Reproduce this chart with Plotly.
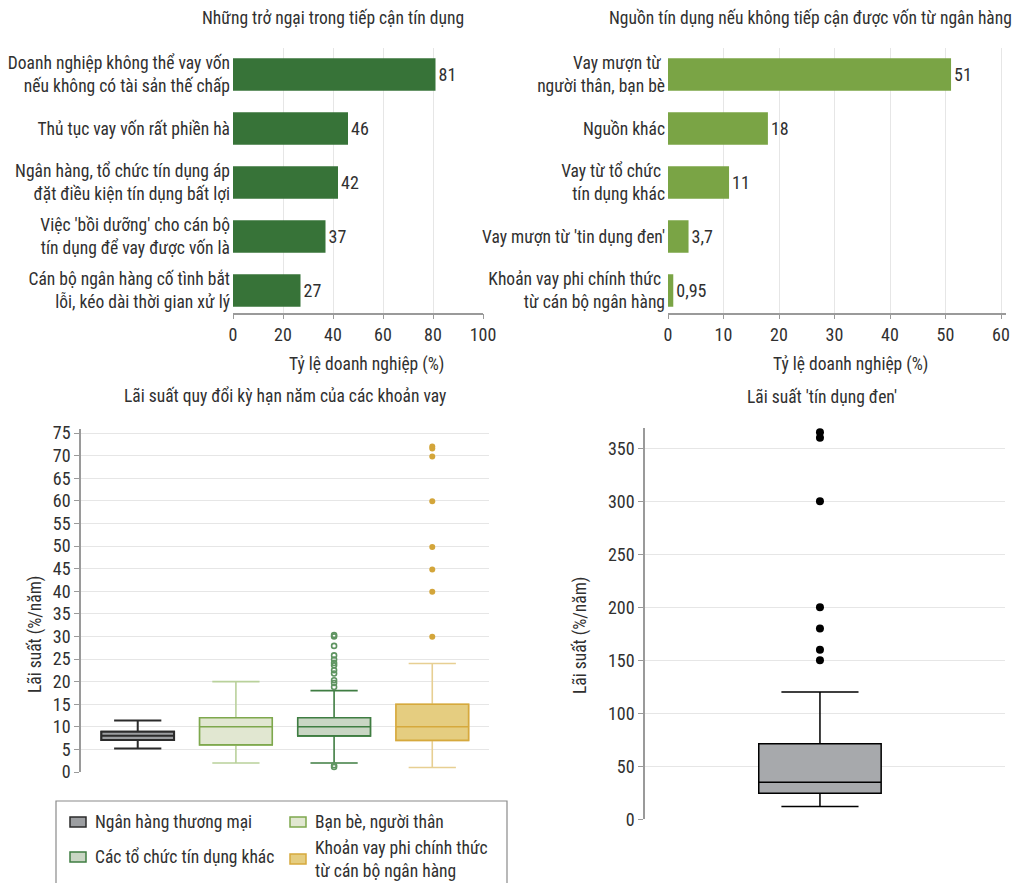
import plotly.graph_objects as go

OFF = 0
W, H = 1018, 883
FONT = "Liberation Sans Narrow, Roboto Condensed, Roboto, sans-serif"
TXT = "#303030"

# ---------------- data ----------------
obstacle_labels = [
    "Doanh nghiệp không thể vay vốn<br>nếu không có tài sản thế chấp",
    "Thủ tục vay vốn rất phiền hà",
    "Ngân hàng, tổ chức tín dụng áp<br>đặt điều kiện tín dụng bất lợi",
    "Việc 'bồi dưỡng' cho cán bộ<br>tín dụng để vay được vốn là",
    "Cán bộ ngân hàng cố tình bắt<br>lỗi, kéo dài thời gian xử lý",
]
obstacle_pct = [81, 46, 42, 37, 27]

source_labels = [
    "Vay mượn từ <br>người thân, bạn bè",
    "Nguồn khác",
    "Vay từ tổ chức <br>tín dụng khác",
    "Vay mượn từ 'tin dụng đen'",
    "Khoản vay phi chính thức <br>từ cán bộ ngân hàng",
]
source_pct = [51, 18, 11, 3.7, 0.95]

loan_types = [
    "Ngân hàng thương mại",
    "Bạn bè, người thân",
    "Các tổ chức tín dụng khác",
    "Khoản vay phi chính thức<br>từ cán bộ ngân hàng",
]
rate_q1 = [7.1, 6, 8, 7]
rate_median = [8, 10, 10, 10]
rate_q3 = [8.9, 12, 12, 15]
rate_low = [5.2, 2, 2, 1]
rate_high = [11.4, 20, 18, 24]
outliers_other_credit = [30, 30.3, 27.9, 25.8, 24.9, 24.1, 23.6, 22.5, 21.8, 20.3, 19.7, 18.8, 1.5, 1.1]
outliers_informal = [72, 71.6, 69.8, 59.9, 49.8, 44.8, 39.9, 29.9]

black_q1 = 24.5
black_median = 35
black_q3 = 71.3
black_low = 12
black_high = 120
black_outliers = [365, 360, 300, 200, 180, 160, 150]

# ---------------- styles ----------------
box_fill = ["#9c9ea1", "#e1e7d1", "#c9d6c4", "#e5cd80"]
box_line = ["#2b2b2b", "#7ea84d", "#3f7d42", "#d6a93d"]
whisker_line = ["#2b2b2b", "#b9d19b", "#3f7d42", "#e7cf92"]


def px_x(px):
    return (px - OFF) / W


def px_y(py):
    return 1 - (py - OFF) / H


fig = go.Figure()

# chart 1
fig.add_trace(go.Bar(
    x=obstacle_pct, y=obstacle_labels, orientation="h",
    marker=dict(color="#377338", line=dict(width=0)),
    width=0.6,
    text=[str(v).replace(".", ",") for v in obstacle_pct],
    textposition="outside", cliponaxis=False,
    textfont=dict(size=18, color=TXT, family=FONT),
    xaxis="x", yaxis="y", showlegend=False, hoverinfo="x+y",
))

# chart 2
fig.add_trace(go.Bar(
    x=source_pct, y=source_labels, orientation="h",
    marker=dict(color="#7aa445", line=dict(width=0)),
    width=0.6,
    text=[str(v).replace(".", ",") for v in source_pct],
    textposition="outside", cliponaxis=False,
    textfont=dict(size=18, color=TXT, family=FONT),
    xaxis="x2", yaxis="y2", showlegend=False, hoverinfo="x+y",
))

# chart 3: boxes (whiskers drawn first, then the box outline on top)
for i, name in enumerate(loan_types):
    fig.add_trace(go.Box(
        x=[name], q1=[rate_q1[i]], median=[rate_median[i]], q3=[rate_q3[i]],
        lowerfence=[rate_low[i]], upperfence=[rate_high[i]],
        name=name, width=0.74, whiskerwidth=0.65,
        fillcolor=box_fill[i], line=dict(color=whisker_line[i], width=2 if i == 0 else 1.6),
        boxpoints=False, xaxis="x3", yaxis="y3", showlegend=False,
    ))
    fig.add_trace(go.Box(
        x=[name], q1=[rate_q1[i]], median=[rate_median[i]], q3=[rate_q3[i]],
        lowerfence=[rate_q1[i]], upperfence=[rate_q3[i]],
        name=name, width=0.74, whiskerwidth=0,
        fillcolor=box_fill[i], line=dict(color=box_line[i], width=2 if i == 0 else 1.6),
        boxpoints=False, xaxis="x3", yaxis="y3", showlegend=False, hoverinfo="skip",
    ))

fig.add_trace(go.Scatter(
    x=[loan_types[2]] * len(outliers_other_credit), y=outliers_other_credit,
    mode="markers", marker=dict(size=5, color="rgba(0,0,0,0)", line=dict(color="#5f9461", width=1.6)),
    xaxis="x3", yaxis="y3", showlegend=False, cliponaxis=False,
))
fig.add_trace(go.Scatter(
    x=[loan_types[3]] * len(outliers_informal), y=outliers_informal,
    mode="markers", marker=dict(size=6, color="#d3a53a", line=dict(width=0)),
    xaxis="x3", yaxis="y3", showlegend=False, cliponaxis=False,
))

# chart 4
fig.add_trace(go.Box(
    x=["Tín dụng đen"], q1=[black_q1], median=[black_median], q3=[black_q3],
    lowerfence=[black_low], upperfence=[black_high],
    width=0.34, whiskerwidth=0.63, fillcolor="#a7a9ac",
    line=dict(color="#000000", width=1.5), boxpoints=False,
    xaxis="x4", yaxis="y4", showlegend=False,
))
fig.add_trace(go.Scatter(
    x=["Tín dụng đen"] * len(black_outliers), y=black_outliers,
    mode="markers", marker=dict(size=8, color="#000000"),
    xaxis="x4", yaxis="y4", showlegend=False, cliponaxis=False,
))

GRID = "#e6e6e6"
AX = "#9a9a9a"
tickf = dict(size=18, color=TXT, family=FONT)

common_x_bar = dict(showgrid=True, gridcolor=GRID, gridwidth=1, zeroline=False,
                    showline=True, linecolor=AX, linewidth=1.5, ticks="outside",
                    ticklen=5, tickcolor=AX, tickfont=tickf, automargin=False)
common_y_bar = dict(type="category", showgrid=False, zeroline=False, showline=False,
                    ticks="", tickfont=dict(size=17.5, color=TXT, family=FONT),
                    range=[4.41, -0.5], automargin=False, ticklabelstandoff=2)

fig.update_layout(
    width=W, height=H, margin=dict(l=0, r=0, t=0, b=0, autoexpand=False),
    paper_bgcolor="white", plot_bgcolor="white",
    font=dict(family=FONT, color=TXT),
    xaxis=dict(domain=[px_x(233), px_x(483)], range=[0, 100], dtick=20, anchor="y", **common_x_bar),
    yaxis=dict(domain=[px_y(312.7), px_y(47.5)], anchor="x", **common_y_bar),
    xaxis2=dict(domain=[px_x(668), px_x(1006)], range=[0, 60.9], dtick=10, anchor="y2", **common_x_bar),
    yaxis2=dict(domain=[px_y(312.7), px_y(47.5)], anchor="x2", **common_y_bar),
    xaxis3=dict(domain=[px_x(81), px_x(489)], anchor="y3", showticklabels=False, showgrid=False,
                zeroline=False, showline=False, ticks="", automargin=False),
    yaxis3=dict(domain=[px_y(772), px_y(428.5)], anchor="x3", range=[0, 76], dtick=5,
                showgrid=True, gridcolor=GRID, zeroline=False, showline=True, linecolor=AX,
                linewidth=1.5, ticks="outside", ticklen=5, tickcolor=AX, tickfont=tickf,
                automargin=False),
    xaxis4=dict(domain=[px_x(645), px_x(1005)], anchor="y4", showticklabels=False, showgrid=False,
                zeroline=False, showline=False, ticks="", range=[-0.486, 0.514], automargin=False),
    yaxis4=dict(domain=[px_y(819.3), px_y(427.7)], anchor="x4", range=[0, 369.4], dtick=50,
                showgrid=True, gridcolor=GRID, zeroline=False, showline=True, linecolor=AX,
                linewidth=1.5, ticks="outside", ticklen=5, tickcolor=AX, tickfont=tickf,
                automargin=False),
)

ann = []


def add_text(text, x, y, size=17.5, angle=0, xanchor="center"):
    ann.append(dict(text=text, x=px_x(x), y=px_y(y), xref="paper", yref="paper",
                    showarrow=False, xanchor=xanchor, yanchor="middle", textangle=angle,
                    font=dict(size=size, color=TXT, family=FONT)))


add_text("Những trở ngại trong tiếp cận tín dụng", 333, 18)
add_text("Nguồn tín dụng nếu không tiếp cận được vốn từ ngân hàng", 810, 18)
add_text("Tỷ lệ doanh nghiệp (%)", 366, 365)
add_text("Tỷ lệ doanh nghiệp (%)", 850, 365)
add_text("Lãi suất quy đổi kỳ hạn năm của các khoản vay", 285, 396)
add_text("Lãi suất 'tín dụng đen'", 822, 397)
add_text("Lãi suất (%/năm)", 35, 635, angle=-90)
add_text("Lãi suất (%/năm)", 580, 636, angle=-90)

# manual legend
shapes = [dict(type="rect", xref="paper", yref="paper", x0=px_x(56), x1=px_x(507),
               y0=px_y(895), y1=px_y(801), line=dict(color="#8a8a8a", width=1.2),
               fillcolor="rgba(0,0,0,0)")]
legend_pos = [(70, 822), (290, 822), (70, 857), (290, 859)]
for i, name in enumerate(loan_types):
    sx, sy = legend_pos[i]
    shapes.append(dict(type="rect", xref="paper", yref="paper", x0=px_x(sx), x1=px_x(sx + 16),
                       y0=px_y(sy + 5), y1=px_y(sy - 5), fillcolor=box_fill[i],
                       line=dict(color=box_line[i], width=1.5)))
    add_text(name, sx + 23, sy, size=17.5, xanchor="left")
ann[-1]["align"] = "left"

fig.update_layout(annotations=ann, shapes=shapes)

fig.write_html(
    "out.html",
    config={"displayModeBar": False},
    post_script="document.body.style.margin='0';document.documentElement.style.overflow='hidden';",
)
